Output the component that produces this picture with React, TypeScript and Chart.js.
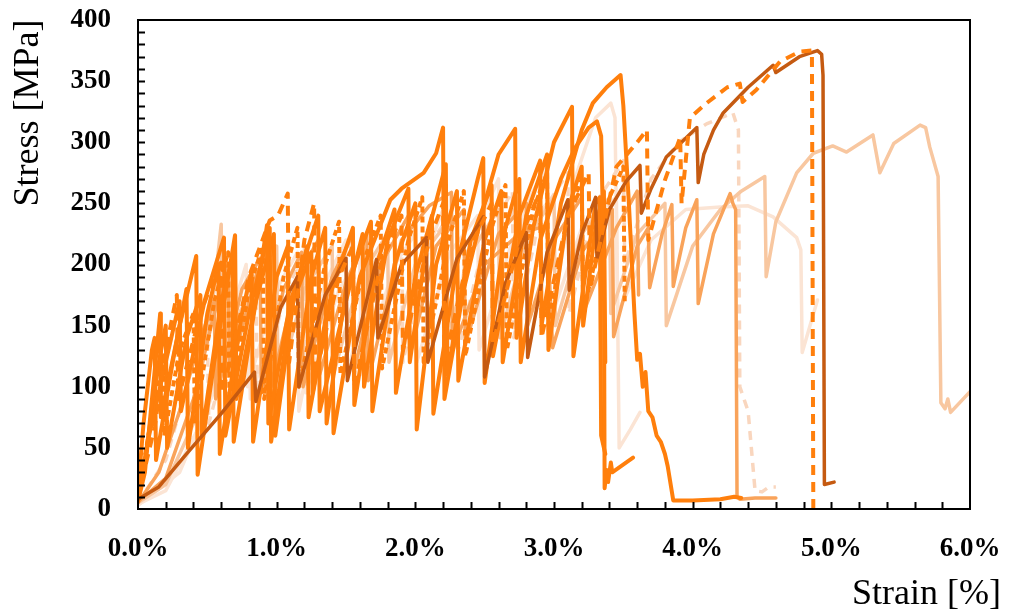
import { useEffect, useRef } from "react";
import { Chart, registerables } from "chart.js";

Chart.register(...registerables);

type Pt = [number, number];

// x tick values (strain %) and y tick values (stress MPa)
const xTicks = [0, 1, 2, 3, 4, 5, 6];
const yTicks = [0, 50, 100, 150, 200, 250, 300, 350, 400];

// Bright orange, solid — last peak 355 MPa then stepwise decline
const brightA: Pt[] = [
  [0, 6], [0.05, 30], [0.16, 160], [0.165, 75], [0.3, 150], [0.42, 207], [0.43, 28], [0.55, 120],
  [0.7, 224], [0.71, 90], [0.85, 170], [0.93, 232], [0.94, 70], [1.1, 170], [1.3, 240], [1.31, 80],
  [1.5, 170], [1.62, 225], [1.63, 100], [1.8, 220], [1.95, 262], [1.96, 120], [2.1, 230], [2.22, 282],
  [2.23, 110], [2.4, 220], [2.55, 265], [2.56, 125], [2.75, 240], [2.9, 285], [2.91, 150], [3.05, 250],
  [3.2, 310], [3.28, 332], [3.38, 345], [3.48, 355], [3.5, 330], [3.54, 250], [3.58, 160], [3.6, 122],
  [3.62, 127], [3.64, 100], [3.66, 112], [3.68, 80], [3.71, 75], [3.74, 60], [3.77, 55], [3.8, 45],
  [3.82, 35], [3.86, 7], [4.0, 7], [4.2, 8], [4.3, 10], [4.35, 9],
];

// Bright orange, solid — last peak 317 MPa, break near 3.36 %
const brightB: Pt[] = [
  [0, 10], [0.08, 60], [0.22, 130], [0.3, 170], [0.31, 80], [0.48, 170], [0.62, 222], [0.63, 60],
  [0.8, 160], [0.95, 230], [0.96, 55], [1.1, 160], [1.22, 215], [1.23, 75], [1.4, 180], [1.55, 230],
  [1.56, 85], [1.72, 200], [1.85, 245], [1.86, 95], [2.0, 190], [2.12, 240], [2.13, 78], [2.3, 200],
  [2.45, 270], [2.49, 287], [2.5, 103], [2.65, 230], [2.75, 270], [2.76, 120], [2.9, 220], [3.05, 270],
  [3.15, 295], [3.25, 312], [3.31, 317], [3.34, 305], [3.36, 200], [3.365, 17], [3.38, 32], [3.39, 22],
  [3.41, 38], [3.42, 30], [3.57, 42],
];

// Bright orange, solid — peaks 312 / 311 / 329 MPa
const brightC: Pt[] = [
  [0, 8], [0.05, 40], [0.15, 120], [0.2, 150], [0.21, 50], [0.35, 140], [0.45, 175], [0.46, 60],
  [0.6, 170], [0.68, 205], [0.69, 55], [0.85, 170], [0.98, 225], [0.99, 60], [1.12, 170], [1.25, 210],
  [1.26, 95], [1.36, 160], [1.4, 170], [1.41, 62], [1.6, 190], [1.82, 253], [1.9, 262], [2.06, 275],
  [2.15, 291], [2.2, 312], [2.21, 90], [2.35, 180], [2.5, 250], [2.6, 290], [2.72, 311], [2.73, 140],
  [2.85, 230], [3.0, 300], [3.13, 329], [3.14, 125], [3.3, 250], [3.33, 255], [3.34, 60], [3.37, 45],
];

// Bright orange, solid — steep early serrations
const brightD: Pt[] = [
  [0, 15], [0.04, 70], [0.1, 130], [0.12, 140], [0.13, 40], [0.25, 120], [0.35, 180], [0.36, 50],
  [0.5, 160], [0.58, 200], [0.59, 45], [0.75, 160], [0.82, 195], [0.83, 55], [1.0, 190], [1.08, 215],
  [1.09, 65], [1.25, 190], [1.35, 230], [1.36, 70], [1.5, 180], [1.68, 235], [1.69, 80], [1.85, 200],
  [2.0, 250], [2.01, 65], [2.15, 200], [2.3, 260], [2.31, 105], [2.5, 220], [2.62, 260], [2.63, 120],
  [2.8, 240], [2.95, 290], [2.96, 130], [3.1, 245], [3.2, 280], [3.21, 150], [3.3, 230], [3.36, 260],
  [3.37, 120],
];

// Bright orange, short dashes
const brightDotted: Pt[] = [
  [0, 12], [0.06, 50], [0.15, 110], [0.18, 125], [0.19, 60], [0.3, 130], [0.4, 160], [0.41, 70],
  [0.55, 170], [0.65, 210], [0.66, 80], [0.8, 180], [0.9, 215], [0.91, 90], [1.05, 190], [1.15, 230],
  [1.16, 100], [1.35, 200], [1.45, 235], [1.46, 110], [1.65, 210], [1.75, 240], [1.76, 115], [1.95, 220],
  [2.05, 255], [2.06, 120], [2.25, 225], [2.35, 260], [2.36, 125], [2.55, 230], [2.65, 265], [2.66, 130],
  [2.85, 245], [2.95, 275], [2.96, 150], [3.1, 240], [3.2, 270], [3.21, 160], [3.4, 255], [3.5, 280],
  [3.51, 170],
];

// Bright orange, dashed — reaches 375 MPa at 4.87 %
const brightDashed: Pt[] = [
  [0, 10], [0.12, 67], [0.2, 130], [0.28, 175], [0.29, 90], [0.45, 160], [0.6, 205], [0.61, 95],
  [0.8, 190], [0.95, 236], [1.01, 240], [1.08, 258], [1.09, 120], [1.2, 220], [1.27, 250], [1.28, 110],
  [1.45, 190], [1.55, 215], [1.56, 100], [1.75, 200], [1.9, 240], [1.91, 130], [2.1, 220], [2.2, 250],
  [2.21, 120], [2.4, 215], [2.55, 250], [2.56, 135], [2.75, 220], [2.9, 260], [2.91, 140], [3.1, 240],
  [3.25, 275], [3.26, 180], [3.45, 280], [3.6, 300], [3.67, 310], [3.68, 220], [3.8, 269], [3.91, 304],
  [3.92, 250], [3.98, 320], [4.1, 332], [4.17, 338], [4.25, 345], [4.34, 348], [4.36, 333], [4.46, 343],
  [4.63, 366], [4.77, 374], [4.86, 375], [4.87, 0],
];

// Dark orange, solid — reaches 375 MPa at 4.9 %
const darkSolid: Pt[] = [
  [0, 8], [0.15, 18], [0.35, 45], [0.6, 78], [0.84, 112], [0.85, 88], [1.03, 165], [1.15, 190],
  [1.16, 100], [1.35, 175], [1.5, 205], [1.51, 105], [1.72, 204], [1.73, 140], [1.9, 200], [2.08, 222],
  [2.09, 120], [2.3, 205], [2.49, 239], [2.5, 108], [2.65, 185], [2.8, 226], [2.81, 124], [2.95, 210],
  [3.1, 253], [3.11, 179], [3.2, 225], [3.3, 255], [3.31, 205], [3.4, 245], [3.52, 268], [3.62, 281],
  [3.63, 242], [3.7, 262], [3.81, 288], [3.92, 300], [4.03, 312], [4.04, 267], [4.08, 290], [4.15, 310],
  [4.22, 324], [4.4, 345], [4.58, 363], [4.6, 357], [4.77, 370], [4.9, 375], [4.93, 372], [4.94, 355],
  [4.95, 20], [5.02, 22],
];

// Medium orange, solid — fails at 4.32 %
const mediumA: Pt[] = [
  [0, 6], [0.2, 25], [0.4, 90], [0.55, 160], [0.65, 200], [0.66, 110], [0.85, 190], [0.95, 215],
  [0.96, 100], [1.15, 190], [1.3, 220], [1.31, 110], [1.5, 185], [1.65, 225], [1.66, 105], [1.9, 220],
  [2.1, 248], [2.26, 259], [2.27, 130], [2.5, 200], [2.75, 225], [2.95, 232], [2.99, 132], [3.2, 210],
  [3.42, 245], [3.43, 141], [3.6, 215], [3.68, 230], [3.69, 181], [3.78, 225], [3.85, 249], [3.86, 182],
  [3.95, 230], [4.03, 253], [4.04, 168], [4.15, 225], [4.27, 258], [4.29, 250], [4.31, 245], [4.32, 10],
  [4.34, 8], [4.45, 9], [4.6, 9],
];

// Medium orange, solid — second specimen
const mediumB: Pt[] = [
  [0, 5], [0.15, 30], [0.3, 80], [0.45, 140], [0.55, 170], [0.56, 90], [0.75, 180], [0.88, 205],
  [0.89, 95], [1.05, 180], [1.18, 210], [1.19, 100], [1.4, 190], [1.55, 225], [1.56, 115], [1.75, 200],
  [1.95, 240], [1.96, 125], [2.15, 215], [2.35, 245], [2.36, 135], [2.6, 225], [2.8, 250], [2.81, 150],
  [3.0, 220], [3.2, 255], [3.21, 160], [3.45, 230], [3.6, 260], [3.61, 175],
];

// Light orange, solid — runs to 6 %
const lightSolid: Pt[] = [
  [0, 5], [0.2, 20], [0.4, 70], [0.55, 180], [0.6, 233], [0.61, 120], [0.8, 180], [1.0, 215],
  [1.01, 100], [1.2, 180], [1.4, 215], [1.41, 110], [1.6, 190], [1.8, 225], [1.81, 120], [2.0, 200],
  [2.2, 230], [2.21, 130], [2.4, 210], [2.6, 245], [2.61, 140], [2.8, 220], [3.0, 255], [3.01, 150],
  [3.2, 225], [3.4, 255], [3.41, 160], [3.6, 225], [3.8, 250], [3.81, 150], [4.0, 215], [4.2, 245],
  [4.35, 260], [4.52, 272], [4.53, 190], [4.6, 235], [4.75, 275], [4.87, 291], [5.01, 297], [5.11, 292],
  [5.3, 306], [5.35, 275], [5.45, 299], [5.64, 314], [5.68, 312], [5.71, 296], [5.77, 272], [5.79, 87],
  [5.82, 82], [5.84, 90], [5.86, 79], [6.0, 96],
];

// Pale orange, solid — peak 332 MPa at 3.41 %
const paleA: Pt[] = [
  [0, 4], [0.2, 15], [0.5, 80], [0.7, 170], [0.78, 200], [0.79, 100], [1.0, 180], [1.15, 210],
  [1.16, 80], [1.35, 185], [1.5, 220], [1.51, 110], [1.7, 200], [1.85, 235], [1.86, 100], [2.05, 200],
  [2.2, 245], [2.21, 120], [2.4, 220], [2.6, 270], [2.61, 150], [2.8, 250], [2.95, 280], [2.96, 140],
  [3.15, 270], [3.3, 320], [3.41, 332], [3.44, 320], [3.46, 150], [3.47, 50], [3.55, 65], [3.62, 79],
];

// Pale orange, solid — plateau near 245 MPa, fails at 4.79 %
const paleB: Pt[] = [
  [0, 3], [0.3, 30], [0.6, 110], [0.8, 170], [0.81, 90], [1.0, 160], [1.2, 200], [1.21, 95],
  [1.45, 180], [1.6, 205], [1.61, 110], [1.85, 200], [2.0, 225], [2.01, 120], [2.25, 210], [2.45, 240],
  [2.46, 130], [2.7, 220], [2.95, 250], [2.96, 150], [3.2, 230], [3.45, 255], [3.46, 160], [3.7, 220],
  [3.95, 245], [4.2, 247], [4.4, 248], [4.58, 239], [4.75, 222], [4.78, 212], [4.79, 128], [4.9, 171],
];

// Pale orange, dashed — peak 324 MPa at 4.29 %
const paleDashed: Pt[] = [
  [0, 5], [0.2, 40], [0.4, 120], [0.5, 150], [0.51, 70], [0.7, 150], [0.85, 195], [0.86, 90],
  [1.05, 170], [1.2, 215], [1.21, 100], [1.4, 180], [1.55, 220], [1.56, 110], [1.75, 200], [1.9, 240],
  [1.91, 120], [2.1, 215], [2.3, 250], [2.31, 130], [2.5, 220], [2.7, 260], [2.71, 140], [2.9, 240],
  [3.1, 275], [3.11, 160], [3.3, 250], [3.5, 285], [3.51, 200], [3.7, 270], [3.9, 300], [4.1, 315],
  [4.29, 324], [4.33, 310], [4.34, 100], [4.4, 80], [4.45, 15], [4.5, 14], [4.55, 18], [4.6, 18],
];

const FONT = "'Liberation Serif', 'Times New Roman', serif";

const BRIGHT = "#FF7F0C";
const DARK = "#C55A11";
const MEDIUM = "#F9A35A";
const LIGHT = "#F8C7A0";
const PALE = "#FBE4D4";
const PALE_DASH = "#F9D6BE";

const frame = {
  id: "frame",
  afterDatasetsDraw(chart: any) {
    const { ctx, chartArea: a, scales } = chart;
    ctx.save();
    ctx.strokeStyle = "#000";
    ctx.lineWidth = 2;
    ctx.strokeRect(a.left, a.top, a.right - a.left, a.bottom - a.top);
    ctx.beginPath();
    for (let v = 10; v < 400; v += 10) {
      const y = Math.round(scales.y.getPixelForValue(v)) + 0.5;
      ctx.moveTo(a.left, y);
      ctx.lineTo(a.left + 7, y);
    }
    for (let i = 1; i < 30; i++) {
      const x = Math.round(scales.x.getPixelForValue(i * 0.2)) + 0.5;
      ctx.moveTo(x, a.bottom);
      ctx.lineTo(x, a.bottom - 7);
    }
    ctx.stroke();
    ctx.fillStyle = "#000";
    ctx.font = `36px ${FONT}`;
    ctx.textAlign = "right";
    ctx.textBaseline = "alphabetic";
    ctx.fillText("Strain [%]", 1001, 604);
    ctx.translate(38, 113);
    ctx.rotate(-Math.PI / 2);
    ctx.textAlign = "center";
    ctx.fillText("Stress [MPa]", 0, 0);
    ctx.restore();
  },
};

type Spec = { data: Pt[]; color: string; width: number; dash?: number[]; order: number };

const specs: Spec[] = [
  { data: paleB, color: PALE, width: 3.5, order: 12 },
  { data: paleA, color: PALE, width: 3.5, order: 11 },
  { data: paleDashed, color: PALE_DASH, width: 3.5, dash: [9, 7], order: 10 },
  { data: lightSolid, color: LIGHT, width: 3.5, order: 9 },
  { data: mediumB, color: MEDIUM, width: 3.5, order: 8 },
  { data: mediumA, color: MEDIUM, width: 3.5, order: 7 },
  { data: brightDotted, color: BRIGHT, width: 4, dash: [6, 4], order: 6 },
  { data: brightD, color: BRIGHT, width: 4, order: 5 },
  { data: brightC, color: BRIGHT, width: 4, order: 4 },
  { data: brightB, color: BRIGHT, width: 4, order: 3 },
  { data: brightA, color: BRIGHT, width: 4, order: 2 },
  { data: darkSolid, color: DARK, width: 3.5, order: 1 },
  { data: brightDashed, color: BRIGHT, width: 4, dash: [10, 7], order: 0 },
];

export default function App() {
  const ref = useRef<HTMLCanvasElement | null>(null);
  useEffect(() => {
    if (!ref.current) return;
    const chart = new Chart(ref.current, {
      type: "line",
      data: {
        datasets: specs.map((s) => ({
          data: s.data.map(([x, y]) => ({ x, y })),
          borderColor: s.color,
          backgroundColor: s.color,
          borderWidth: s.width,
          borderDash: s.dash || [],
          borderJoinStyle: "round" as const,
          borderCapStyle: (s.dash ? "butt" : "round") as any,
          pointRadius: 0,
          tension: 0,
          fill: false,
          order: s.order,
        })),
      },
      options: {
        animation: false,
        responsive: false,
        layout: { padding: { left: 0, top: 20, right: 50, bottom: 0 } },
        plugins: { legend: { display: false }, tooltip: { enabled: false } },
        scales: {
          x: {
            type: "linear",
            min: 0,
            max: 6,
            afterBuildTicks: (s: any) => {
              s.ticks = xTicks.map((v) => ({ value: v }));
            },
            afterFit: (s: any) => {
              s.height = 104;
              s.paddingLeft = 0;
              s.paddingRight = 0;
              s.paddingTop = 0;
              s.paddingBottom = 0;
            },
            ticks: {
              color: "#000",
              padding: 24,
              maxRotation: 0,
              autoSkip: false,
              font: { family: FONT, size: 27, weight: "bold" },
              callback: (v: any) => `${Number(v).toFixed(1)}%`,
            },
            grid: { display: false, drawTicks: false },
            border: { display: false },
          },
          y: {
            type: "linear",
            min: 0,
            max: 400,
            afterBuildTicks: (s: any) => {
              s.ticks = yTicks.map((v) => ({ value: v }));
            },
            afterFit: (s: any) => {
              s.width = 138;
              s.paddingLeft = 0;
              s.paddingRight = 0;
              s.paddingTop = 0;
              s.paddingBottom = 0;
            },
            ticks: {
              color: "#000",
              padding: 27,
              font: { family: FONT, size: 27, weight: "bold" },
            },
            grid: { display: false, drawTicks: false },
            border: { display: false },
          },
        },
      },
      plugins: [frame],
    });
    return () => chart.destroy();
  }, []);
  return (
    <div style={{ position: "absolute", left: 0, top: 0, width: 1020, height: 613, background: "#fff" }}>
      <canvas ref={ref} width={1020} height={613} style={{ display: "block" }} />
    </div>
  );
}
